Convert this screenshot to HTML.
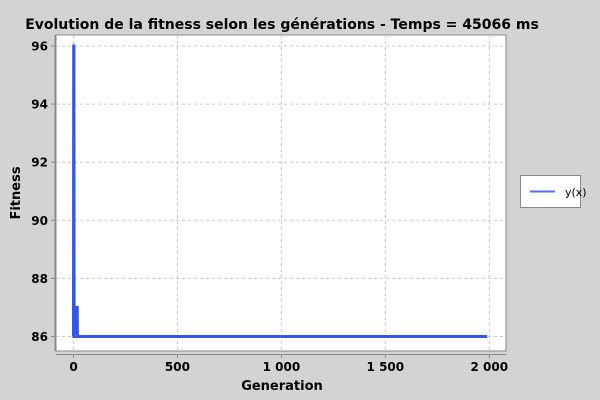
<!DOCTYPE html>
<html><head><meta charset="utf-8"><style>
body{margin:0;background:#d3d3d3;}
svg{display:block;font-family:"DejaVu Sans","Liberation Sans",sans-serif;}
</style></head><body>
<svg id="c" width="600" height="400">
<rect x="0" y="0" width="600" height="400" fill="#d3d3d3"/>
<text x="282" y="29" text-anchor="middle" font-size="14" font-weight="bold" fill="#000">Evolution de la fitness selon les générations - Temps = 45066 ms</text>
<rect x="56" y="35" width="450" height="316" fill="#fff" stroke="#888" stroke-width="1"/>
<g id="grid"></g><g id="axes"></g><g id="series"></g>
<text x="282" y="390" text-anchor="middle" font-size="13" font-weight="bold">Generation</text>
<text transform="translate(20,193) rotate(-90)" text-anchor="middle" font-size="13" font-weight="bold">Fitness</text>
<g>
<rect x="520.5" y="175.5" width="60" height="32" fill="#fff" stroke="#888"/>
<line x1="530" y1="191.5" x2="555" y2="191.5" stroke="#5070f0" stroke-width="2"/>
<text x="565" y="196" font-size="11">y(x)</text>
</g>
</svg>
<script>
const xTicks=[0,500,1000,1500,2000];
const xTickLabels=["0","500","1 000","1 500","2 000"];
const yTicks=[86,88,90,92,94,96];
const gens=[0,1,2,3,4,5,10,15,18,19,20,1990];
const fitness=[86,96,96,86,86,87,87,87,87,86,86,86];
const NS="http://www.w3.org/2000/svg";
const X=v=>73.5+v*(489.3-73.5)/2000;
const Y=v=>336.5-(v-86)*(336.5-46)/10;
function mk(t,a,p){const e=document.createElementNS(NS,t);for(const k in a)e.setAttribute(k,a[k]);p.appendChild(e);return e;}
const g=document.getElementById('grid'),ax=document.getElementById('axes'),s=document.getElementById('series');
mk('line',{x1:55,y1:35,x2:55,y2:351,stroke:'#888'},ax);
mk('line',{x1:56,y1:354.5,x2:506,y2:354.5,stroke:'#888'},ax);
xTicks.forEach((v,i)=>{
 const l=mk('line',{x1:X(v),y1:35,x2:X(v),y2:351,stroke:'#c8c8c8','stroke-dasharray':'3,3'},g);
 
 
 mk('line',{x1:X(v),y1:354,x2:X(v),y2:358,stroke:'#888'},ax);
 const t=mk('text',{x:X(v),y:371,'text-anchor':'middle','font-size':12,'font-weight':'bold'},ax);
 t.textContent=xTickLabels[i];
 
 
});
yTicks.forEach(v=>{
 const l=mk('line',{x1:56,y1:Y(v),x2:506,y2:Y(v),stroke:'#c8c8c8','stroke-dasharray':'3,3'},g);
 
 
 mk('line',{x1:51,y1:Y(v),x2:55,y2:Y(v),stroke:'#888'},ax);
 const t=mk('text',{x:48,y:Y(v)+4.5,'text-anchor':'end','font-size':12,'font-weight':'bold'},ax);
 t.textContent=v;
 
 
});
const p=mk('polyline',{points:gens.map((v,i)=>X(v)+','+Y(fitness[i])).join(' '),fill:'none',stroke:'#3355ee','stroke-width':3,'stroke-linejoin':'miter'},s);


</script>
</body></html>
